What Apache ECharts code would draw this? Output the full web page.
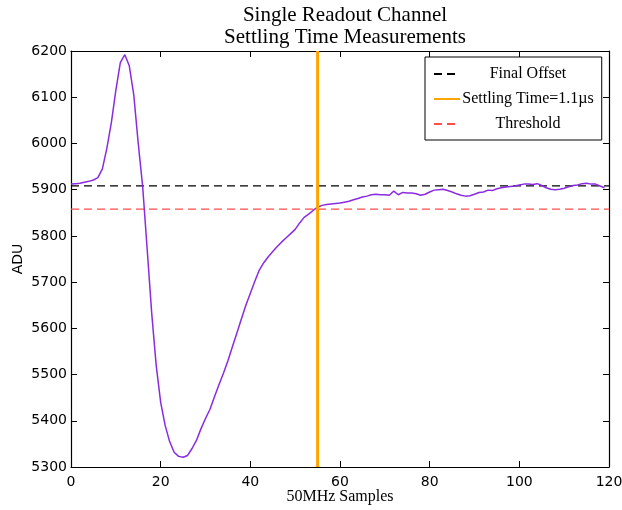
<!DOCTYPE html>
<html><head><meta charset="utf-8">
<script src="https://cdn.jsdelivr.net/npm/echarts@6/dist/echarts.min.js"></script>
<style>html,body{margin:0;padding:0;background:#fff}#c{width:622px;height:510px}</style>
</head><body><div id="c"></div>
<script>
// ADU value per 50MHz sample (index = sample number)
const adu = [5912,5913,5914,5916,5918,5921,5926,5945,5990,6045,
6115,6175,6192,6168,6105,6000,5905,5770,5633,5520,
5440,5390,5355,5332,5323,5321,5325,5340,5358,5383,
5405,5425,5452,5478,5503,5530,5560,5590,5620,5650,
5676,5702,5726,5742,5755,5766,5777,5787,5796,5805,
5814,5828,5840,5847,5855,5862,5866,5868,5869,5870,
5871,5873,5875,5878,5881,5884,5886,5889,5890,5889,
5889,5888,5897,5889,5894,5893,5893,5891,5888,5890,
5895,5899,5900,5901,5898,5895,5891,5888,5886,5887,
5890,5894,5895,5899,5898,5902,5904,5906,5907,5908,
5910,5912,5912,5911,5913,5909,5904,5901,5900,5901,
5903,5906,5909,5910,5913,5914,5912,5912,5908,5904];
const finalOffset = 5908;
const threshold = 5858;
const settlingSample = 55;
const xTicks = [0, 120, 20];      // min, max, interval
const yTicks = [5300, 6200, 100]; // min, max, interval
const legendNames = ['Final Offset', 'Settling Time=1.1\u00b5s', 'Threshold'];

const chart = echarts.init(document.getElementById('c'), null, {renderer: 'canvas'});
const serif = 'Liberation Serif';
const sans = 'DejaVu Sans';
const axisCommon = {
  axisLine: {show: true, onZero: false, lineStyle: {color: '#000', width: 1.2}},
  axisTick: {show: true, inside: true, length: 6, lineStyle: {color: '#000'}},
  splitLine: {show: false}
};
chart.setOption({
  animation: false,
  backgroundColor: '#fff',
  title: {
    text: 'Single Readout Channel\nSettling Time Measurements',
    left: 340, top: -1, textAlign: 'center',
    textStyle: {fontFamily: serif, fontSize: 21, fontWeight: 'normal', color: '#000', lineHeight: 22}
  },
  legend: {
    orient: 'vertical', left: 425, top: 57, width: 176,
    data: legendNames,
    backgroundColor: '#fff', borderColor: '#000', borderWidth: 1, borderRadius: 0,
    padding: [9, 8, 8, 8], itemGap: 9, itemWidth: 26, itemHeight: 16,
    itemStyle: {opacity: 0},
    formatter: n => '{t|' + n + '}',
    textStyle: {fontFamily: serif, fontSize: 16, color: '#000',
      rich: {t: {fontFamily: serif, fontSize: 16, width: 126, align: 'center', color: '#000'}}}
  },
  grid: {left: 71, right: 13, top: 51, bottom: 43, containLabel: false, outerBoundsMode: 'none'},
  xAxis: [
    Object.assign({type: 'value', min: xTicks[0], max: xTicks[1], interval: xTicks[2], position: 'bottom',
      name: '50MHz Samples', nameLocation: 'middle', nameGap: 22, nameMoveOverlap: false,
      nameTextStyle: {fontFamily: serif, fontSize: 16, color: '#000'},
      axisLabel: {fontFamily: sans, fontSize: 14, color: '#000', margin: 8}}, axisCommon),
    Object.assign({type: 'value', min: xTicks[0], max: xTicks[1], interval: xTicks[2], position: 'top',
      axisLabel: {show: false}}, axisCommon)
  ],
  yAxis: [
    Object.assign({type: 'value', min: yTicks[0], max: yTicks[1], interval: yTicks[2], position: 'left',
      name: 'ADU', nameLocation: 'middle', nameGap: 46, nameRotate: 90, nameMoveOverlap: false,
      nameTextStyle: {fontFamily: sans, fontSize: 14, color: '#000'},
      axisLabel: {fontFamily: sans, fontSize: 14, color: '#000', margin: 4, formatter: v => String(v)}}, axisCommon),
    Object.assign({type: 'value', min: yTicks[0], max: yTicks[1], interval: yTicks[2], position: 'right',
      axisLabel: {show: false}}, axisCommon)
  ],
  series: [
    {type: 'line', name: 'ADU', data: adu.map((v, i) => [i, v]), showSymbol: false, symbol: 'none',
      lineStyle: {color: '#8a2be2', width: 1.5}, itemStyle: {color: '#8a2be2'}, z: 3},
    {type: 'line', name: legendNames[0], data: [[xTicks[0], finalOffset], [xTicks[1], finalOffset]],
      symbol: 'none', lineStyle: {color: '#000', width: 1.2, type: [8, 5]}, itemStyle: {color: '#000'}, z: 2},
    {type: 'line', name: legendNames[1], data: [[settlingSample, yTicks[0]], [settlingSample, yTicks[1]]],
      symbol: 'none', lineStyle: {color: '#ffa500', width: 3}, itemStyle: {color: '#ffa500'}, z: 4},
    {type: 'line', name: legendNames[2], data: [[xTicks[0], threshold], [xTicks[1], threshold]],
      symbol: 'none', lineStyle: {color: '#ff4d4d', width: 1.2, type: [8, 5]}, itemStyle: {color: '#ff4d4d'}, z: 2}
  ]
});
</script></body></html>
